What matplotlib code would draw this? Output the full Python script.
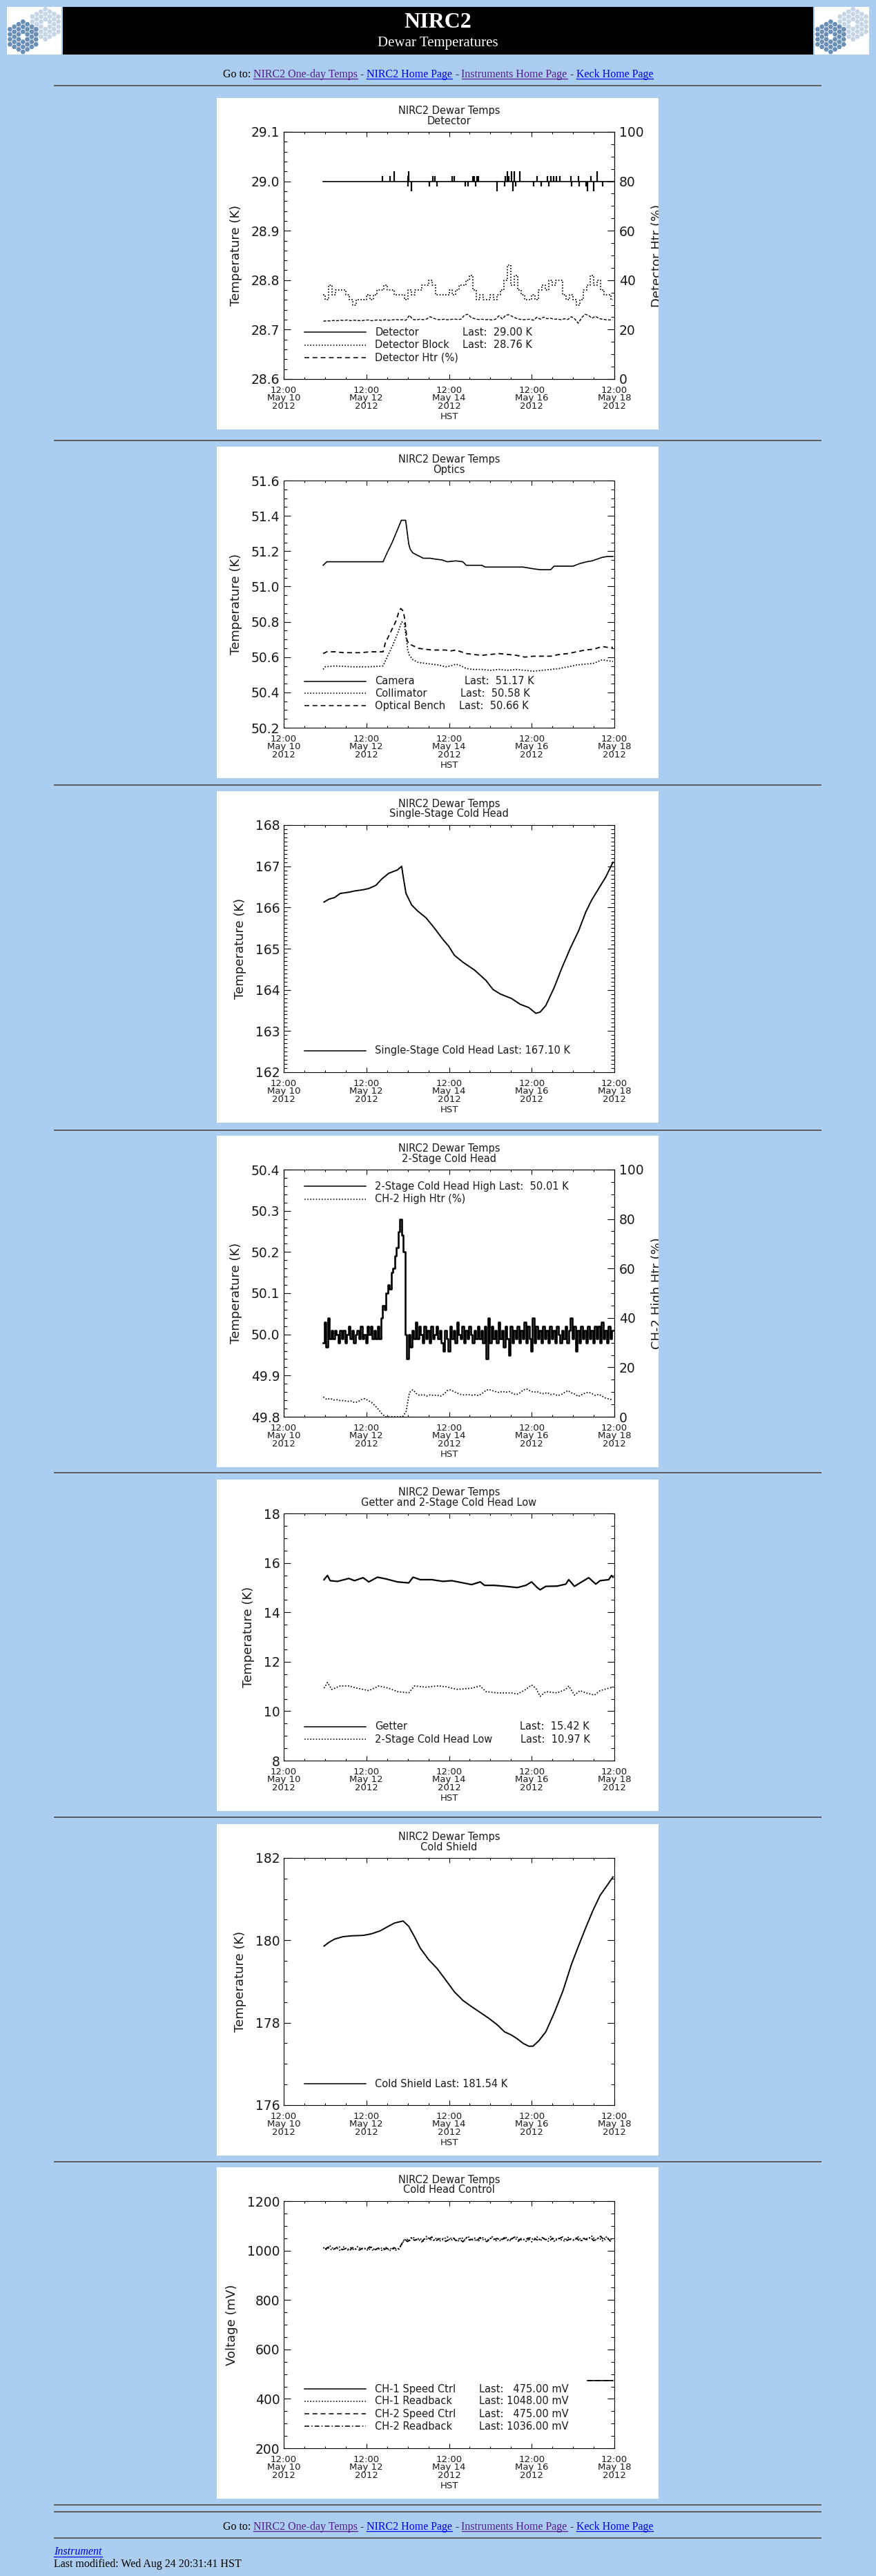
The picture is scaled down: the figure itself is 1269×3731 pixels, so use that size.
import numpy as np
import matplotlib
matplotlib.use('Agg')
import matplotlib.pyplot as plt
from matplotlib.patches import Rectangle, RegularPolygon
from matplotlib.ticker import MultipleLocator, FormatStrFormatter

plt.rcParams['lines.scale_dashes'] = False
plt.rcParams['font.family'] = ['DejaVu Sans']

W, H = 1269, 3731
BG = '#abcdef'
INK = '#1a1a1a'
LINK = '#0000ee'
VISITED = '#551a8b'
SERIF = 'Liberation Serif'

SOLID = '-'
DOT = (0, (1.2, 1.8))
DASH = (0, (5.0, 3.5))
DASHDOT = (0, (5.0, 2.2, 1.2, 2.2))

# ---------------------------------------------------------------- data
# time is hours after 12:00 May 10 2012 (HST)
x_ticks = [0, 48, 96, 144, 192]
x_tick_labels = ['12:00\nMay 10\n2012', '12:00\nMay 12\n2012', '12:00\nMay 14\n2012',
                 '12:00\nMay 16\n2012', '12:00\nMay 18\n2012']

# detector panel
det_hours = [22.9, 191.5]
det_k = [29.00, 29.00]
det_spike_hours = [57.4, 61.8, 64.3, 72.1, 72.3, 72.6, 74.3, 84.6, 86.4, 87.9,
                   88.9, 97.8, 99.2, 105.4, 106.9, 109.9, 110.8, 111.6, 112.1, 113.2,
                   124.0, 128.2, 128.7, 129.8, 130.7, 132.3, 133.1, 134.0, 134.8, 137.0,
                   145.2, 147.2, 149.7, 153.0, 153.9, 155.2, 156.8, 158.2, 160.5, 166.8,
                   167.1, 171.3, 171.6, 175.4, 176.2, 178.4, 180.1, 182.1, 185.0]
det_spike_k = [29.01, 29.01, 29.02, 29.01, 28.99, 29.02, 28.98, 28.99, 29.01, 29.01,
               28.99, 29.01, 29.01, 28.99, 28.99, 29.01, 29.01, 28.99, 29.01, 29.01,
               28.98, 28.99, 29.01, 29.02, 29.01, 29.02, 28.98, 29.02, 28.99, 29.02,
               28.99, 29.01, 28.99, 29.01, 28.99, 29.01, 29.01, 29.01, 29.01, 29.01,
               28.99, 29.01, 28.99, 28.99, 28.98, 29.01, 28.98, 29.02, 28.99]
block_start, block_step = 23, 2
block_k = [28.77, 28.76, 28.79, 28.77, 28.78, 28.78, 28.78, 28.77, 28.76, 28.75,
           28.76, 28.76, 28.76, 28.77, 28.76, 28.77, 28.78, 28.78, 28.79, 28.78,
           28.78, 28.77, 28.77, 28.77, 28.76, 28.78, 28.77, 28.78, 28.78, 28.79,
           28.79, 28.80, 28.79, 28.77, 28.77, 28.77, 28.77, 28.78, 28.77, 28.78,
           28.79, 28.79, 28.80, 28.81, 28.78, 28.76, 28.77, 28.76, 28.76, 28.77,
           28.76, 28.77, 28.78, 28.80, 28.83, 28.79, 28.81, 28.78, 28.77, 28.76,
           28.76, 28.77, 28.76, 28.78, 28.79, 28.78, 28.80, 28.79, 28.80, 28.80,
           28.77, 28.76, 28.77, 28.76, 28.75, 28.76, 28.78, 28.79, 28.81, 28.79,
           28.80, 28.78, 28.77, 28.77, 28.76]
det_htr_pct = [23.4, 23.6, 23.5, 23.7, 23.6, 23.8, 23.7, 23.9, 23.6, 23.8,
               23.7, 23.6, 23.8, 23.9, 23.6, 23.8, 23.9, 23.7, 24.0, 23.8,
               23.9, 24.1, 23.9, 24.0, 23.8, 25.8, 24.1, 23.9, 24.2, 24.0,
               24.3, 25.2, 24.6, 24.1, 24.0, 24.2, 24.0, 24.1, 24.3, 24.1,
               24.2, 25.9, 26.2, 24.8, 24.4, 24.1, 24.2, 24.0, 24.1, 23.9,
               24.2, 25.6, 24.3, 25.9, 26.0, 25.2, 24.6, 24.2, 24.0, 24.1,
               24.2, 23.8, 25.0, 24.2, 25.1, 24.4, 24.6, 24.2, 24.3, 24.0,
               24.4, 24.1, 25.2, 24.3, 22.6, 24.8, 26.2, 25.8, 24.6, 25.4,
               24.5, 24.2, 24.0, 23.9, 24.0]

# optics panel
camera_hours = [22.9, 25.0, 57.7, 60.0, 63.0, 66.0, 68.3, 70.8, 71.8, 72.6,
                73.5, 75.0, 77.0, 79.0, 81.0, 85.0, 88.0, 92.0, 95.0, 100.0,
                104.0, 106.0, 115.0, 117.0, 139.0, 145.0, 149.0, 155.0, 157.0, 168.0,
                172.0, 176.0, 179.0, 182.0, 185.0, 188.0, 191.2]
camera_k = [51.12, 51.14, 51.14, 51.19, 51.25, 51.32, 51.375, 51.375, 51.30, 51.24,
            51.21, 51.19, 51.18, 51.17, 51.16, 51.16, 51.155, 51.15, 51.14, 51.145,
            51.14, 51.12, 51.12, 51.11, 51.11, 51.10, 51.095, 51.095, 51.115, 51.115,
            51.13, 51.14, 51.145, 51.155, 51.165, 51.17, 51.17]
coll_hours = [22.9, 24, 30, 40, 50, 57.7, 60, 63, 66, 68.5,
              70, 71, 72, 73, 75, 78, 82, 86, 90, 94,
              97, 100, 103, 106, 110, 115, 120, 125, 130, 135,
              140, 145, 150, 155, 160, 165, 170, 175, 180, 185,
              188, 191.2]
coll_k = [50.53, 50.545, 50.55, 50.545, 50.545, 50.55, 50.60, 50.66, 50.73, 50.80,
          50.79, 50.72, 50.64, 50.61, 50.585, 50.57, 50.565, 50.56, 50.555, 50.545,
          50.55, 50.56, 50.55, 50.535, 50.53, 50.53, 50.525, 50.53, 50.525, 50.53,
          50.525, 50.52, 50.525, 50.53, 50.535, 50.545, 50.555, 50.56, 50.565, 50.585,
          50.58, 50.575]
bench_hours = [22.9, 25, 30, 35, 40, 45, 50, 55, 57.7, 59,
               61, 63, 65, 67, 68, 69.5, 70.5, 71.5, 72.5, 75,
               78, 82, 86, 90, 94, 97, 100, 103, 106, 110,
               115, 120, 125, 130, 135, 140, 145, 150, 155, 160,
               165, 170, 175, 180, 185, 188, 191.2]
bench_k = [50.62, 50.63, 50.63, 50.625, 50.625, 50.625, 50.63, 50.63, 50.63, 50.68,
           50.72, 50.76, 50.80, 50.86, 50.875, 50.86, 50.80, 50.70, 50.675, 50.665,
           50.65, 50.645, 50.64, 50.64, 50.64, 50.635, 50.64, 50.63, 50.62, 50.615,
           50.61, 50.615, 50.62, 50.615, 50.61, 50.60, 50.605, 50.605, 50.605, 50.615,
           50.62, 50.63, 50.64, 50.645, 50.66, 50.655, 50.655]

# single-stage cold head
ss_hours = [23.4, 26.2, 29.5, 32.8, 37.8, 41.1, 46.1, 49.4, 53.6, 56.9,
            61.0, 66.0, 68.5, 69.3, 71.0, 74.3, 77.6, 82.6, 87.5, 92.5,
            95.8, 99.1, 104.1, 110.8, 117.4, 121.5, 125.7, 132.3, 137.3, 142.3,
            146.4, 148.9, 152.2, 157.2, 161.3, 166.3, 171.3, 175.4, 178.7, 182.9,
            187.0, 191.2]
ss_k = [166.13, 166.20, 166.24, 166.34, 166.37, 166.40, 166.43, 166.46, 166.54, 166.69,
        166.83, 166.91, 167.00, 166.77, 166.34, 166.06, 165.92, 165.75, 165.50, 165.22,
        165.06, 164.84, 164.67, 164.48, 164.23, 164.01, 163.90, 163.79, 163.65, 163.57,
        163.43, 163.46, 163.62, 164.07, 164.51, 165.00, 165.44, 165.89, 166.17, 166.46,
        166.74, 167.10]

# 2-stage cold head high, hourly from 23h
ch2_start, ch2_step = 23, 1
ch2_high_k = [49.98, 50.03, 49.97, 50.04, 49.99, 50.01, 49.99, 50.01, 50.00, 49.98,
              50.01, 49.99, 50.01, 49.98, 50.00, 50.02, 49.99, 50.01, 49.98, 50.00,
              50.01, 49.99, 50.02, 49.99, 50.00, 49.98, 50.02, 50.00, 50.02, 49.99,
              50.01, 49.99, 50.02, 49.99,
              50.04, 50.07, 50.06, 50.10, 50.12, 50.11, 50.15, 50.16, 50.19, 50.21,
              50.25, 50.28, 50.24, 50.20, 50.00, 49.94,
              50.00, 49.97, 50.01, 49.99, 50.03, 49.99, 50.02, 50.00, 49.98, 50.02,
              49.99, 50.01, 49.98, 50.02, 49.99, 50.00, 50.02, 49.99, 50.01, 49.98,
              49.96, 50.01, 49.99, 49.96, 50.02, 49.99, 50.01, 49.98, 50.03, 50.00,
              49.99, 50.02, 49.98, 50.01, 49.99, 50.02, 50.00, 49.98, 50.01, 49.99,
              50.02, 49.99, 50.01, 49.98, 50.02, 49.94, 50.04, 49.98, 50.02, 49.99,
              50.01, 49.98, 50.03, 49.99, 50.01, 49.97, 50.02, 49.99, 49.95, 50.02,
              49.98, 50.01, 49.99, 50.02, 49.98, 50.01, 49.99, 50.03, 49.98, 50.02,
              49.99, 49.96, 50.04, 49.98, 50.02, 49.99, 50.01, 49.98, 50.02, 49.99,
              50.01, 49.98, 50.02, 49.99, 50.01, 49.98, 50.02, 50.00, 49.98, 50.01,
              49.99, 50.02, 49.98, 50.01, 50.04, 49.99, 50.02, 49.96, 50.01, 49.98,
              50.02, 49.99, 50.01, 49.98, 50.02, 49.99, 50.01, 49.98, 50.02, 49.99,
              50.02, 49.98, 50.03, 49.99, 50.01, 49.98, 50.02, 49.99, 50.01]
ch2_htr_start, ch2_htr_step = 23, 2
ch2_htr_pct = [8.0, 7.0, 7.4, 6.8, 6.9, 6.5, 6.6, 6.2, 6.4, 5.8,
               6.0, 6.9, 7.3, 6.6, 5.8, 4.5, 3.0, 1.2, 0.0, 0.0,
               0.0, 0.0, 0.0, 0.0, 2.0, 9.8, 10.9, 9.4, 8.6, 9.0,
               8.4, 8.9, 8.6, 8.8, 8.3, 9.2, 10.6, 10.9, 10.1, 9.5,
               9.0, 8.8, 9.0, 8.7, 8.9, 8.6, 9.3, 10.4, 11.1, 10.6,
               10.2, 9.8, 10.3, 9.9, 10.2, 9.4, 8.9, 9.6, 10.8, 11.3,
               10.5, 9.9, 10.2, 9.6, 9.3, 9.8, 9.0, 9.2, 8.6, 8.9,
               9.8, 10.6, 9.7, 9.2, 8.2, 8.9, 9.6, 9.9, 9.4, 8.6,
               9.1, 8.3, 7.5, 7.2, 6.8]

# getter and 2-stage cold head low
getter_hours = [23.4, 25.4, 27.0, 31.2, 37.8, 41.1, 46.1, 49.4, 54.4, 59.4,
                66.0, 72.6, 75.1, 79.3, 85.9, 92.5, 97.5, 104.1, 109.1, 114.1,
                116.6, 122.4, 129.0, 135.6, 140.6, 143.9, 147.2, 148.9, 152.2, 158.8,
                163.8, 165.5, 168.8, 172.1, 177.1, 181.2, 183.7, 188.7, 190.3, 191.2]
getter_k = [15.32, 15.49, 15.28, 15.25, 15.37, 15.28, 15.40, 15.23, 15.42, 15.35,
            15.23, 15.19, 15.42, 15.32, 15.32, 15.25, 15.28, 15.19, 15.12, 15.23,
            15.09, 15.09, 15.05, 15.00, 15.09, 15.23, 15.00, 14.91, 15.05, 15.06,
            15.14, 15.32, 15.05, 15.19, 15.40, 15.14, 15.28, 15.32, 15.49, 15.42]
low_hours = [23.4, 25.4, 27.9, 32.8, 37.8, 42.8, 49.4, 55.2, 61.0, 66.0,
             72.6, 75.9, 82.6, 89.2, 94.2, 100.8, 109.1, 114.1, 117.4, 124.0,
             132.3, 135.6, 140.6, 143.9, 146.4, 148.9, 152.2, 158.8, 163.8, 165.5,
             168.8, 172.1, 175.4, 180.4, 183.7, 188.7, 191.2]
low_k = [10.93, 11.16, 10.88, 11.02, 11.02, 10.93, 10.83, 11.02, 10.93, 10.79,
         10.74, 11.02, 10.97, 11.02, 10.99, 10.88, 10.93, 11.02, 10.79, 10.74,
         10.74, 10.69, 10.88, 11.06, 10.93, 10.60, 10.79, 10.74, 10.88, 11.02,
         10.65, 10.83, 10.74, 10.65, 10.83, 10.93, 10.97]

# cold shield
cs_hours = [23.4, 26.2, 29.5, 34.5, 39.5, 46.1, 51.1, 56.0, 59.4, 64.3,
            69.3, 72.6, 75.9, 79.3, 84.2, 89.2, 94.2, 99.1, 104.1, 109.1,
            114.1, 119.0, 124.0, 128.2, 132.3, 135.6, 139.0, 142.3, 144.7, 148.1,
            152.2, 157.2, 162.2, 167.1, 170.4, 175.4, 179.6, 183.7, 187.9, 191.2]
cs_k = [179.86, 179.95, 180.03, 180.09, 180.11, 180.12, 180.16, 180.23, 180.31, 180.42,
        180.47, 180.34, 180.09, 179.81, 179.53, 179.31, 179.03, 178.75, 178.54, 178.39,
        178.25, 178.11, 177.95, 177.78, 177.70, 177.61, 177.50, 177.43, 177.43, 177.56,
        177.78, 178.25, 178.78, 179.42, 179.78, 180.31, 180.73, 181.09, 181.34, 181.54]

# cold head control
speed_hours = [176.3, 191.2]
ch1_speed_mv = [475, 475]
ch2_speed_mv = [475, 475]
rb1_start, rb1_step = 23, 2
ch1_readback_mv = [1012, 1003, 1018, 1006, 1010, 999, 1015, 1004, 1011, 1002,
                   1016, 1005, 1009, 1000, 1013, 1003, 1008, 1001, 1014, 1004,
                   1010, 1002, 1006,
                   1032, 1048, 1040, 1055, 1043, 1050, 1038, 1057, 1045, 1041,
                   1052, 1039, 1047, 1055, 1041, 1049, 1036, 1053, 1044, 1058,
                   1040, 1050, 1037, 1054, 1046, 1042, 1056, 1039, 1048, 1044,
                   1053, 1038, 1050, 1057, 1041, 1047, 1036, 1052, 1045, 1055,
                   1040, 1049, 1043, 1056, 1038, 1051, 1044, 1039, 1053, 1046,
                   1042, 1055, 1040, 1050, 1047, 1058, 1043, 1052, 1039, 1056,
                   1044, 1048]
rb2_start, rb2_step = 24, 2
ch2_readback_mv = [1006, 1014, 1001, 1009, 1017, 1003, 1008, 998, 1012, 1005,
                   1002, 1011, 1004, 1015, 999, 1007, 1013, 1003, 1009, 1000,
                   1012, 1004, 1020,
                   1045, 1036, 1052, 1041, 1047, 1034, 1050, 1043, 1055, 1038,
                   1046, 1051, 1037, 1044, 1054, 1040, 1048, 1035, 1050, 1042,
                   1047, 1039, 1053, 1043, 1036, 1051, 1045, 1049, 1038, 1052,
                   1041, 1046, 1054, 1037, 1049, 1043, 1051, 1035, 1047, 1040,
                   1053, 1044, 1036, 1050, 1042, 1048, 1055, 1039, 1046, 1041,
                   1051, 1037, 1049, 1044, 1054, 1040, 1047, 1058, 1042, 1050,
                   1036]

nav_links = [('NIRC2 One-day Temps', VISITED), ('NIRC2 Home Page', LINK),
             ('Instruments Home Page', VISITED), ('Keck Home Page', LINK)]

PANEL_TOPS = [142, 647, 1146, 1645, 2143, 2642, 3139]
HR_YS = [124, 638, 1137, 1637, 2133, 2632, 3131, 3628, 3638, 3676]


def grid(start, step, values):
    return start + step * np.arange(len(values))


# ---------------------------------------------------------------- page
fig = plt.figure(figsize=(W / 100, H / 100), dpi=100, facecolor=BG)
page = fig.add_axes([0, 0, 1, 1], zorder=0)
page.set_xlim(0, W)
page.set_ylim(H, 0)
page.axis('off')


def draw_logo(x0):
    box = Rectangle((x0, 10), 79, 69, facecolor='white', edgecolor='none')
    page.add_patch(box)
    R = 4.2
    for (cx, cy), col in [((x0 + 55.7, 35.0), '#c6d5e5'), ((x0 + 23.3, 53.3), '#6a8fb7')]:
        for q in range(-3, 4):
            for r in range(-3, 4):
                ring = max(abs(q), abs(r), abs(q + r))
                if ring == 0 or ring > 3:
                    continue
                hx = cx + 1.5 * R * q
                hy = cy + np.sqrt(3) * R * (r + q / 2)
                hexa = RegularPolygon((hx, hy), 6, radius=R * 0.88, orientation=np.pi / 6,
                                      facecolor=col, edgecolor='none')
                page.add_patch(hexa)
                hexa.set_clip_path(box)


draw_logo(10)
draw_logo(1180)
page.add_patch(Rectangle((91, 10), 1087, 69, facecolor='black', edgecolor='none'))
page.text(634, 32, 'NIRC2', color='white', fontsize=23, fontweight='bold', family=SERIF,
          ha='center', va='center')
page.text(634, 63, 'Dewar Temperatures', color='white', fontsize=15, family=SERIF,
          ha='center', va='center')

for y in HR_YS:
    page.plot([78, 1190], [y, y], color='#5b5b5b', lw=1.4, solid_capstyle='butt')

renderer = fig.canvas.get_renderer()


def draw_nav(y):
    items = [('Go to:', 'black', False)]
    for i, (txt, col) in enumerate(nav_links):
        if i:
            items.append(('-', 'black', False))
        items.append((txt, col, True))
    texts = [page.text(0, y, t, color=c, fontsize=11.5, family=SERIF, va='baseline')
             for t, c, u in items]
    widths = [t.get_window_extent(renderer).width for t in texts]
    gap = 4
    x = W / 2 - (sum(widths) + gap * (len(widths) - 1)) / 2
    for t, w, (s, c, u) in zip(texts, widths, items):
        t.set_x(x)
        if u:
            page.plot([x, x + w], [y + 2, y + 2], color=c, lw=0.9)
        x += w + gap


draw_nav(112)
draw_nav(3664)

t = page.text(78, 3700, 'Instrument', color=LINK, fontsize=11.5, family=SERIF,
              style='italic', va='baseline')
w = t.get_window_extent(renderer).width
page.plot([78, 78 + w], [3703, 3703], color=LINK, lw=0.9)
page.text(78, 3718, 'Last modified: Wed Aug 24 20:31:41 HST', color='black', fontsize=11.5,
          family=SERIF, va='baseline')


# ---------------------------------------------------------------- plots
def make_panel(top, subtitle, ylabel, ylim, ymajor, yminor, yfmt, right=None):
    pan = fig.add_axes([314 / W, 1 - (top + 480) / H, 640 / W, 480 / H], zorder=1)
    pan.set_xlim(0, 640)
    pan.set_ylim(480, 0)
    pan.set_facecolor('white')
    pan.set_xticks([])
    pan.set_yticks([])
    for s in pan.spines.values():
        s.set_visible(False)
    pan.text(336.5, 18.5, 'NIRC2 Dewar Temps', ha='center', va='center', fontsize=10.5, color=INK)
    pan.text(336.5, 33, subtitle, ha='center', va='center', fontsize=10.5, color=INK)
    pan.text(336.5, 461.5, 'HST', ha='center', va='center', fontsize=9.5, color=INK)

    ax = fig.add_axes([(314 + 97) / W, 1 - (top + 407) / H, 479 / W, 358 / H], zorder=2)
    ax.set_xlim(0, 192)
    ax.set_ylim(*ylim)
    ax.set_xticks(x_ticks)
    ax.set_xticklabels(x_tick_labels, fontsize=9.5, linespacing=0.85, color=INK)
    ax.xaxis.set_minor_locator(MultipleLocator(12))
    ax.yaxis.set_major_locator(MultipleLocator(ymajor))
    ax.yaxis.set_minor_locator(MultipleLocator(yminor))
    ax.yaxis.set_major_formatter(FormatStrFormatter(yfmt))
    ax.tick_params(axis='x', which='both', direction='in', top=True, width=0.8, pad=7)
    ax.tick_params(axis='x', which='major', length=5)
    ax.tick_params(axis='x', which='minor', length=2.5)
    ax.tick_params(axis='y', which='both', direction='in', right=right is None, width=0.8,
                   labelsize=13.5, labelcolor=INK, pad=4)
    ax.tick_params(axis='y', which='major', length=7)
    ax.tick_params(axis='y', which='minor', length=3.5)
    for s in ax.spines.values():
        s.set_linewidth(0.8)
    ax.set_ylabel(ylabel, fontsize=13, color=INK, labelpad=9)

    ax2 = None
    if right is not None:
        ax2 = ax.twinx()
        ax2.set_ylim(0, 100)
        ax2.yaxis.set_major_locator(MultipleLocator(20))
        ax2.yaxis.set_minor_locator(MultipleLocator(5))
        ax2.tick_params(axis='y', which='both', direction='in', width=0.8,
                        labelsize=13.5, labelcolor=INK, pad=5)
        ax2.tick_params(axis='y', which='major', length=7)
        ax2.tick_params(axis='y', which='minor', length=3.5)
        pan.text(638, 228, right, rotation=90, ha='center', va='center', fontsize=13,
                 color=INK, clip_on=True)
    return ax, ax2


def legend(ax, rows):
    for style, name, last, last_x, yf in rows:
        ax.plot([0.063, 0.249], [yf, yf], transform=ax.transAxes, color='black', lw=1.1,
                linestyle=style, clip_on=False)
        ax.text(0.276, yf, name, transform=ax.transAxes, fontsize=10.5, color=INK, va='center')
        if last:
            ax.text(last_x, yf, last, transform=ax.transAxes, fontsize=10.5, color=INK,
                    va='center')


LW = 1.2
DOT_LW = 1.25

# 1 detector
ax, ax2 = make_panel(PANEL_TOPS[0], 'Detector', 'Temperature (K)', (28.6, 29.1), 0.1, 0.02,
                     '%.1f', right='Detector Htr (%)')
ax.plot(det_hours, det_k, color='black', lw=LW)
ax.vlines(det_spike_hours, 29.00, det_spike_k, color='black', lw=1.6)
ax.plot(grid(block_start, block_step, block_k), block_k, color='black', lw=DOT_LW,
        linestyle=DOT, drawstyle='steps-mid')
ax2.plot(grid(block_start, block_step, det_htr_pct), det_htr_pct, color='black', lw=1.0,
         linestyle=(0, (3, 1.5)))
legend(ax, [(SOLID, 'Detector', 'Last:  29.00 K', 0.541, 0.189),
            (DOT, 'Detector Block', 'Last:  28.76 K', 0.541, 0.138),
            (DASH, 'Detector Htr (%)', '', 0, 0.087)])
ax.set_xlim(0, 192)
ax.set_ylim(28.6, 29.1)

# 2 optics
ax, _ = make_panel(PANEL_TOPS[1], 'Optics', 'Temperature (K)', (50.2, 51.6), 0.2, 0.05, '%.1f')
ax.plot(camera_hours, camera_k, color='black', lw=LW)
ax.plot(coll_hours, coll_k, color='black', lw=DOT_LW, linestyle=DOT)
ax.plot(bench_hours, bench_k, color='black', lw=1.3, linestyle=DASH)
legend(ax, [(SOLID, 'Camera', 'Last:  51.17 K', 0.547, 0.188),
            (DOT, 'Collimator', 'Last:  50.58 K', 0.535, 0.139),
            (DASH, 'Optical Bench', 'Last:  50.66 K', 0.530, 0.089)])
ax.set_xlim(0, 192)
ax.set_ylim(50.2, 51.6)

# 3 single-stage cold head
ax, _ = make_panel(PANEL_TOPS[2], 'Single-Stage Cold Head', 'Temperature (K)', (162, 168), 1,
                   0.1, '%d')
ax.plot(ss_hours, ss_k, color='black', lw=1.4)
legend(ax, [(SOLID, 'Single-Stage Cold Head Last: 167.10 K', '', 0, 0.087)])
ax.set_xlim(0, 192)
ax.set_ylim(162, 168)

# 4 2-stage cold head
ax, ax2 = make_panel(PANEL_TOPS[3], '2-Stage Cold Head', 'Temperature (K)', (49.8, 50.4), 0.1,
                     0.02, '%.1f', right='CH-2 High Htr (%)')
ax.plot(grid(ch2_start, ch2_step, ch2_high_k), ch2_high_k, color='black', lw=1.9,
        drawstyle='steps-mid')
ax2.plot(grid(ch2_htr_start, ch2_htr_step, ch2_htr_pct), ch2_htr_pct, color='black',
         lw=DOT_LW, linestyle=DOT)
legend(ax, [(SOLID, '2-Stage Cold Head High Last:  50.01 K', '', 0, 0.932),
            (DOT, 'CH-2 High Htr (%)', '', 0, 0.880)])
ax.set_xlim(0, 192)
ax.set_ylim(49.8, 50.4)

# 5 getter and 2-stage cold head low
ax, _ = make_panel(PANEL_TOPS[4], 'Getter and 2-Stage Cold Head Low', 'Temperature (K)', (8, 18),
                   2, 0.5, '%d')
ax.plot(getter_hours, getter_k, color='black', lw=1.6)
ax.plot(low_hours, low_k, color='black', lw=DOT_LW, linestyle=DOT)
legend(ax, [(SOLID, 'Getter', 'Last:  15.42 K', 0.713, 0.137),
            (DOT, '2-Stage Cold Head Low', 'Last:  10.97 K', 0.717, 0.086)])
ax.set_xlim(0, 192)
ax.set_ylim(8, 18)

# 6 cold shield
ax, _ = make_panel(PANEL_TOPS[5], 'Cold Shield', 'Temperature (K)', (176, 182), 2, 0.5, '%d')
ax.plot(cs_hours, cs_k, color='black', lw=1.4)
legend(ax, [(SOLID, 'Cold Shield Last: 181.54 K', '', 0, 0.086)])
ax.set_xlim(0, 192)
ax.set_ylim(176, 182)

# 7 cold head control
ax, _ = make_panel(PANEL_TOPS[6], 'Cold Head Control', 'Voltage (mV)', (200, 1200), 200, 50, '%d')
ax.plot(speed_hours, ch1_speed_mv, color='black', lw=LW)
ax.plot(speed_hours, ch2_speed_mv, color='black', lw=LW, linestyle=DASH)
ax.plot(grid(rb1_start, rb1_step, ch1_readback_mv), ch1_readback_mv, color='black', lw=1.4,
        linestyle=DOT)
ax.plot(grid(rb2_start, rb2_step, ch2_readback_mv), ch2_readback_mv, color='black', lw=1.3,
        linestyle=DASHDOT)
legend(ax, [(SOLID, 'CH-1 Speed Ctrl', 'Last:   475.00 mV', 0.590, 0.240),
            (DOT, 'CH-1 Readback', 'Last: 1048.00 mV', 0.590, 0.190),
            (DASH, 'CH-2 Speed Ctrl', 'Last:   475.00 mV', 0.590, 0.139),
            (DASHDOT, 'CH-2 Readback', 'Last: 1036.00 mV', 0.590, 0.088)])
ax.set_xlim(0, 192)
ax.set_ylim(200, 1200)

fig.savefig('out.png', dpi=100, facecolor=BG)
